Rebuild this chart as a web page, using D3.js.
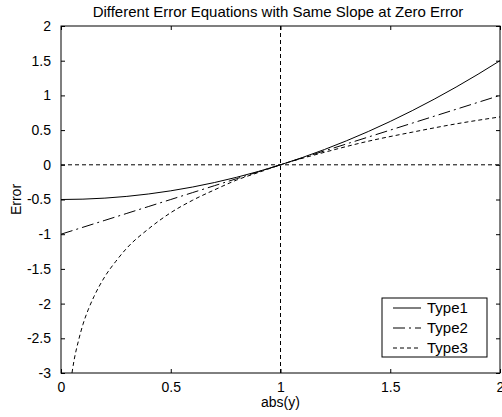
<!DOCTYPE html>
<html>
<head>
<meta charset="utf-8">
<script src="https://cdn.jsdelivr.net/npm/d3@7"></script>
<style>
  body { margin: 0; background: #fff; }
  svg { display: block; font-family: "Liberation Sans", Arial, sans-serif; }
</style>
</head>
<body>
<script>
//---- DRAWING parameters
const width = 502;
const height = 417;
const plotX1 = 61;   // left edge of the axes box
const plotX2 = 500;  // right edge
const plotY1 = 26;   // top edge
const plotY2 = 373;  // bottom edge
const tickLen = 4;

//---- DATA
const xTicks = [0, 0.5, 1, 1.5, 2];
const yTicks = [-3, -2.5, -2, -1.5, -1, -0.5, 0, 0.5, 1, 1.5, 2];

// abs(y) samples for type 1 and 2
const absY = [0, 0.1, 0.2, 0.3, 0.4, 0.5, 0.6, 0.7, 0.8, 0.9, 1.0,
              1.1, 1.2, 1.3, 1.4, 1.5, 1.6, 1.7, 1.8, 1.9, 2.0];
const type1 = [-0.5, -0.495, -0.48, -0.455, -0.42, -0.375, -0.32, -0.255, -0.18, -0.095, 0,
               0.105, 0.22, 0.345, 0.48, 0.625, 0.78, 0.945, 1.12, 1.305, 1.5];
const type2 = [-1, -0.9, -0.8, -0.7, -0.6, -0.5, -0.4, -0.3, -0.2, -0.1, 0,
               0.1, 0.2, 0.3, 0.4, 0.5, 0.6, 0.7, 0.8, 0.9, 1.0];

// type 3 drops off steeply near zero so it gets its own samples
const absY3 = [0.05, 0.06, 0.08, 0.1, 0.125, 0.15, 0.2, 0.25, 0.3, 0.4, 0.5,
               0.6, 0.7, 0.8, 0.9, 1.0, 1.2, 1.4, 1.6, 1.8, 2.0];
const type3 = [-3.0, -2.81, -2.53, -2.30, -2.08, -1.90, -1.61, -1.39, -1.20, -0.92, -0.69,
               -0.51, -0.36, -0.22, -0.11, 0, 0.18, 0.34, 0.47, 0.59, 0.69];

const seriesNames = ["Type1", "Type2", "Type3"];
const dashes = [null, "12,4,2,4", "4,3"];

const series = [
  absY.map((x, i) => ({ x: x, y: type1[i] })),
  absY.map((x, i) => ({ x: x, y: type2[i] })),
  absY3.map((x, i) => ({ x: x, y: type3[i] }))
];

const svg = d3.select("body").append("svg")
  .attr("width", width)
  .attr("height", height);

const x = d3.scaleLinear().domain([0, 2]).range([plotX1, plotX2]);
const y = d3.scaleLinear().domain([-3, 2]).range([plotY2, plotY1]);

const fmt = d => String(d);

// axes with inward ticks on all four sides
const axisB = svg.append("g")
  .attr("transform", `translate(0,${plotY2})`)
  .call(d3.axisBottom(x).tickValues(xTicks).tickSize(-tickLen).tickPadding(9).tickFormat(fmt));
const axisT = svg.append("g")
  .attr("transform", `translate(0,${plotY1})`)
  .call(d3.axisTop(x).tickValues(xTicks).tickSize(-tickLen).tickFormat(""));
const axisL = svg.append("g")
  .attr("transform", `translate(${plotX1},0)`)
  .call(d3.axisLeft(y).tickValues(yTicks).tickSize(-tickLen).tickPadding(10).tickFormat(fmt));
const axisR = svg.append("g")
  .attr("transform", `translate(${plotX2},0)`)
  .call(d3.axisRight(y).tickValues(yTicks).tickSize(-tickLen).tickFormat(""));

[axisB, axisT, axisL, axisR].forEach(g => {
  g.select(".domain").remove();
  g.selectAll("line").attr("stroke", "#000");
  g.selectAll("text")
    .attr("fill", "#000")
    .style("font-size", "14px")
    .style("font-family", "'Liberation Sans', Arial, sans-serif");
});

// reference lines at zero error and abs(y) = 1
svg.append("line")
  .attr("x1", plotX1).attr("x2", plotX2)
  .attr("y1", y(0)).attr("y2", y(0))
  .attr("stroke", "#000").attr("stroke-dasharray", "4,3");
svg.append("line")
  .attr("x1", x(1)).attr("x2", x(1))
  .attr("y1", plotY1).attr("y2", plotY2)
  .attr("stroke", "#000").attr("stroke-dasharray", "4,3");

const line = d3.line()
  .x(d => x(d.x))
  .y(d => y(d.y))
  .curve(d3.curveMonotoneX);

svg.selectAll("path.curve")
    .data(series)
    .enter()
  .append("path")
    .attr("class", "curve")
    .attr("d", line)
    .attr("fill", "none")
    .attr("stroke", "#000")
    .attr("stroke-width", 1)
    .attr("stroke-dasharray", (d, i) => dashes[i]);

// axes box
svg.append("rect")
  .attr("x", plotX1).attr("y", plotY1)
  .attr("width", plotX2 - plotX1).attr("height", plotY2 - plotY1)
  .attr("fill", "none").attr("stroke", "#000");

// title and axis labels
svg.append("text")
  .attr("x", 278)
  .attr("y", 17)
  .attr("text-anchor", "middle")
  .style("font-size", "15px")
  .text("Different Error Equations with Same Slope at Zero Error");

svg.append("text")
  .attr("x", (plotX1 + plotX2) / 2)
  .attr("y", 407)
  .attr("text-anchor", "middle")
  .style("font-size", "14px")
  .text("abs(y)");

svg.append("text")
  .attr("transform", `translate(21,${(plotY1 + plotY2) / 2}) rotate(-90)`)
  .attr("text-anchor", "middle")
  .style("font-size", "14px")
  .text("Error");

// legend
const legend = svg.append("g").attr("transform", "translate(382,298)");
legend.append("rect")
  .attr("width", 105).attr("height", 59)
  .attr("fill", "#fff").attr("stroke", "#000");

const rows = legend.selectAll("g.row")
    .data(seriesNames)
    .enter()
  .append("g")
    .attr("class", "row")
    .attr("transform", (d, i) => `translate(0,${10 + i * 20})`);

rows.append("line")
  .attr("x1", 11).attr("x2", 39)
  .attr("y1", 0).attr("y2", 0)
  .attr("stroke", "#000")
  .attr("stroke-dasharray", (d, i) => dashes[i]);

rows.append("text")
  .attr("x", 45)
  .attr("y", 5)
  .style("font-size", "15px")
  .text(d => d);
</script>
</body>
</html>
